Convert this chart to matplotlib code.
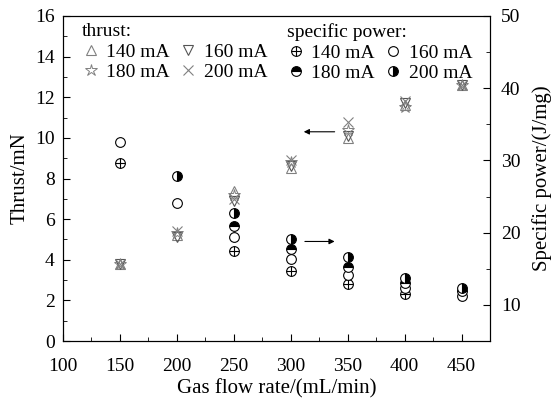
import matplotlib
matplotlib.use("Agg")
from matplotlib import pyplot as plt
from matplotlib.ticker import MultipleLocator

plt.rcParams['font.family'] = ['Liberation Serif', 'DejaVu Serif']

flow = [150, 200, 250, 300, 350, 400, 450]

# thrust (mN) per discharge current
thrust_140 = [3.8, 5.2, 7.4, 8.5, 10.0, 11.6, 12.6]
thrust_160 = [3.8, 5.1, 6.9, 8.6, 10.1, 11.7, 12.6]
thrust_180 = [3.8, 5.3, 7.2, 8.8, 10.4, 11.5, 12.6]
thrust_200 = [3.8, 5.4, 7.0, 8.9, 10.8, 11.8, 12.6]

# specific power (J/mg)
sp_flow_140 = [150, 250, 300, 350, 400]
sp_140 = [29.7, 17.4, 14.7, 12.9, 11.5]
sp_flow_160 = [150, 200, 250, 300, 350, 400, 450]
sp_160 = [32.5, 24.1, 19.4, 16.3, 14.1, 12.4, 11.2]
sp_flow_180 = [250, 300, 350, 400, 450]
sp_180 = [20.9, 17.7, 15.2, 13.1, 11.9]
sp_flow_200 = [200, 250, 300, 350, 400, 450]
sp_200 = [27.9, 22.7, 19.1, 16.6, 13.7, 12.3]

labels = ['140 mA', '180 mA', '160 mA', '200 mA']

fig = plt.figure(figsize=(5.55, 4.05), dpi=100)
ax = fig.add_axes([63/555, 1-341/405, (490-63)/555, (341-16)/405])
ax2 = ax.twinx()

grey = '#808080'
ms = 7
t1, = ax.plot(flow, thrust_140, ls='none', marker='^', mfc='none', mec=grey, ms=ms, mew=0.8)
t2, = ax.plot(flow, thrust_160, ls='none', marker='v', mfc='none', mec='#555555', ms=ms, mew=0.8)
t3, = ax.plot(flow, thrust_180, ls='none', marker='*', mfc='none', mec=grey, ms=ms+2, mew=0.7)
t4, = ax.plot(flow, thrust_200, ls='none', marker='x', color=grey, ms=ms, mew=0.8)

s1a, = ax2.plot(sp_flow_140, sp_140, ls='none', marker='o', mfc='white', mec='black', ms=ms, mew=0.8)
s1b, = ax2.plot(sp_flow_140, sp_140, ls='none', marker='+', color='black', ms=ms, mew=0.8)
s2, = ax2.plot(sp_flow_160, sp_160, ls='none', marker='o', mfc='white', mec='black', ms=ms, mew=0.8)
s3, = ax2.plot(sp_flow_180, sp_180, ls='none', marker='o', fillstyle='top', mfc='black',
               mfcalt='white', mec='black', ms=ms, mew=0.8)
s4, = ax2.plot(sp_flow_200, sp_200, ls='none', marker='o', fillstyle='right', mfc='black',
               mfcalt='white', mec='black', ms=ms, mew=0.8)

ax.set_xlim(100, 475)
ax.set_ylim(0, 16)
ax2.set_ylim(5, 50)
ax.set_xticks([100, 150, 200, 250, 300, 350, 400, 450])
ax.set_yticks(range(0, 17, 2))
ax2.set_yticks([10, 20, 30, 40, 50])
ax.xaxis.set_minor_locator(MultipleLocator(25))
ax.yaxis.set_minor_locator(MultipleLocator(1))
ax2.yaxis.set_minor_locator(MultipleLocator(5))
ax.tick_params(which='both', direction='in', labelsize=14, top=False)
ax.tick_params(which='major', length=5)
ax.tick_params(which='minor', length=3)
ax.tick_params(axis='x', pad=12)
ax.tick_params(axis='y', pad=6)
ax2.tick_params(which='both', direction='in', labelsize=14, pad=8)
ax2.tick_params(which='major', length=5)
ax2.tick_params(which='minor', length=3)

ax.set_xlabel('Gas flow rate/(mL/min)', fontsize=15, labelpad=3)
ax.set_ylabel('Thrust/mN', fontsize=15, labelpad=4)
ax2.set_ylabel('Specific power/(J/mg)', fontsize=15, labelpad=8)

ax.annotate('', xy=(309, 10.3), xytext=(341, 10.3),
            arrowprops=dict(arrowstyle='-|>', color='black', lw=0.8, mutation_scale=8))
ax.annotate('', xy=(341, 4.9), xytext=(310, 4.9),
            arrowprops=dict(arrowstyle='-|>', color='black', lw=0.8, mutation_scale=8))

leg_kw = dict(ncol=2, loc='upper left', frameon=False, fontsize=14, title_fontsize=14,
              handlelength=0.9, handletextpad=0.35, columnspacing=0.5, labelspacing=0.15,
              alignment='left', borderpad=0.2, borderaxespad=0.0)
leg1 = ax2.legend([t1, t3, t2, t4], labels, title='thrust:',
                  bbox_to_anchor=(0.035, 0.99), **leg_kw)
ax2.add_artist(leg1)
ax2.legend([(s1a, s1b), s3, s2, s4], labels, title='specific power:',
           bbox_to_anchor=(0.515, 0.99), **leg_kw)

fig.savefig('out.png', dpi=100)
